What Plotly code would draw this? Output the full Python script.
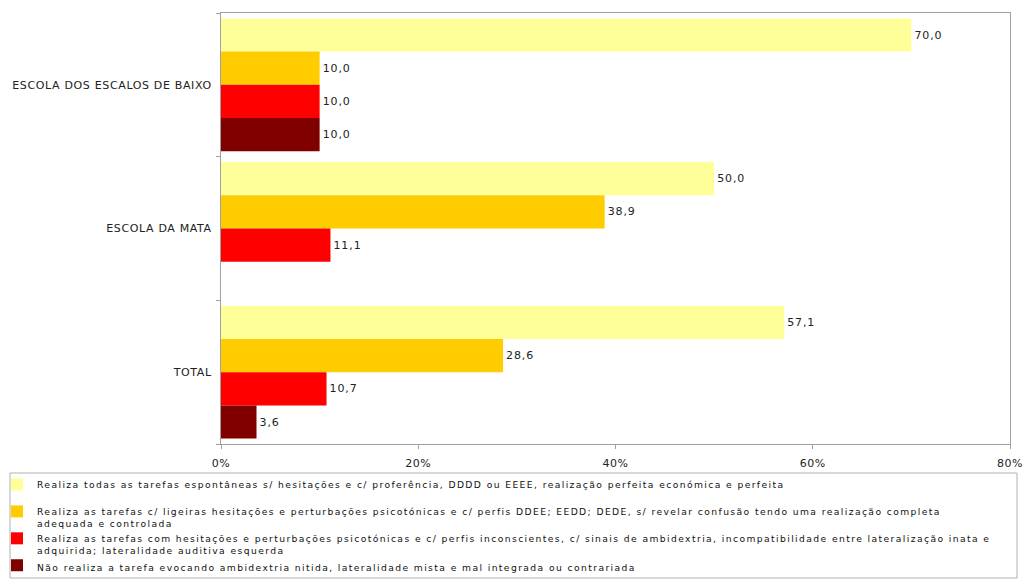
import plotly.graph_objects as go

categories = ["ESCOLA DOS ESCALOS DE BAIXO", "ESCOLA DA MATA", "TOTAL"]

series_names = [
    "Realiza todas as tarefas espontâneas s/ hesitações e c/ proferência, DDDD ou EEEE, realização perfeita económica e perfeita<br> ",
    "Realiza as tarefas c/ ligeiras hesitações e perturbações psicotónicas e c/ perfis DDEE; EEDD; DEDE, s/ revelar confusão tendo uma realização completa<br>adequada e controlada",
    "Realiza as tarefas com hesitações e perturbações psicotónicas e c/ perfis inconscientes, c/ sinais de ambidextria, incompatibilidade entre lateralização inata e<br>adquirida; lateralidade auditiva esquerda",
    "Não realiza a tarefa evocando ambidextria nitida, lateralidade mista e mal integrada ou contrariada",
]

values_realiza_todas = [70.0, 50.0, 57.1]
values_ligeiras = [10.0, 38.9, 28.6]
values_hesitacoes = [10.0, 11.1, 10.7]
values_nao_realiza = [10.0, None, 3.6]

series_values = [values_realiza_todas, values_ligeiras, values_hesitacoes, values_nao_realiza]
colors = ["#FFFF99", "#FFCC00", "#FF0000", "#800000"]

x_tickvals = [0, 20, 40, 60, 80]
x_ticktext = ["0%", "20%", "40%", "60%", "80%"]

FONT = "DejaVu Sans"


def spaced(s, ls):
    """Wrap each line of a text in a span with letter-spacing (Excel-like spacing)."""
    return "<br>".join(
        f'<span style="letter-spacing:{ls}px">{line}</span>' for line in s.split("<br>")
    )


def fmt(v):
    return "" if v is None else f"{v:.1f}".replace(".", ",")


fig = go.Figure()
for name, vals, col in zip(series_names, series_values, colors):
    fig.add_trace(go.Bar(
        y=categories,
        x=vals,
        name=spaced(name, 1.4),
        orientation="h",
        marker=dict(color=col, line=dict(width=0)),
        text=[spaced(fmt(v), 0.9) if v is not None else "" for v in vals],
        textposition="outside",
        textfont=dict(family=FONT, size=11, color="#222222"),
        cliponaxis=False,
        constraintext="none",
        hoverinfo="skip",
    ))

# plot area in pixels: x 221..1010, y 13..444
L, R, T, B = 221, 13, 13, 137
W, H = 1023 - L - R, 581 - T - B


def px_x(p):
    return (p - L) / W


def px_y(p):
    return (581 - B - p) / H


fig.update_layout(
    width=1023, height=581,
    margin=dict(l=L, r=R, t=T, b=B, autoexpand=False),
    paper_bgcolor="white",
    plot_bgcolor="white",
    barmode="group",
    bargap=0.075,
    bargroupgap=0,
    font=dict(family=FONT, size=11, color="#222222"),
    showlegend=True,
    legend=dict(
        x=px_x(-3), xanchor="left",
        y=px_y(472), yanchor="top",
        font=dict(family=FONT, size=9.2, color="#111111"),
        valign="top",
        bgcolor="rgba(0,0,0,0)",
        borderwidth=0,
        traceorder="normal",
    ),
    xaxis=dict(
        range=[0, 80],
        tickvals=x_tickvals,
        ticktext=[spaced(t, 0.5) for t in x_ticktext],
        showgrid=False,
        zeroline=False,
        showline=True,
        linecolor="#a0a0a0",
        linewidth=1,
        mirror=True,
        ticks="outside",
        ticklen=4,
        tickcolor="#a0a0a0",
        ticklabelstandoff=5,
        ticklabeloverflow="allow",
        tickfont=dict(family=FONT, size=11, color="#222222"),
        fixedrange=True,
    ),
    yaxis=dict(
        autorange="reversed",
        tickvals=categories,
        ticktext=[spaced(c, 0.65) for c in categories],
        showgrid=False,
        zeroline=False,
        showline=True,
        linecolor="#a0a0a0",
        linewidth=1,
        mirror=True,
        ticks="outside",
        tickson="boundaries",
        ticklen=4,
        tickcolor="#a0a0a0",
        ticklabelstandoff=6,
        tickfont=dict(family=FONT, size=11, color="#222222"),
        fixedrange=True,
    ),
    shapes=[dict(
        type="rect", xref="paper", yref="paper",
        x0=px_x(10), x1=px_x(1017), y0=px_y(578), y1=px_y(473),
        line=dict(color="#b0b0b0", width=1),
        fillcolor="rgba(0,0,0,0)",
        layer="below",
    )],
)

fig.write_html(
    "out.html",
    config={"displayModeBar": False},
    post_script="document.body.style.margin='0';",
)
